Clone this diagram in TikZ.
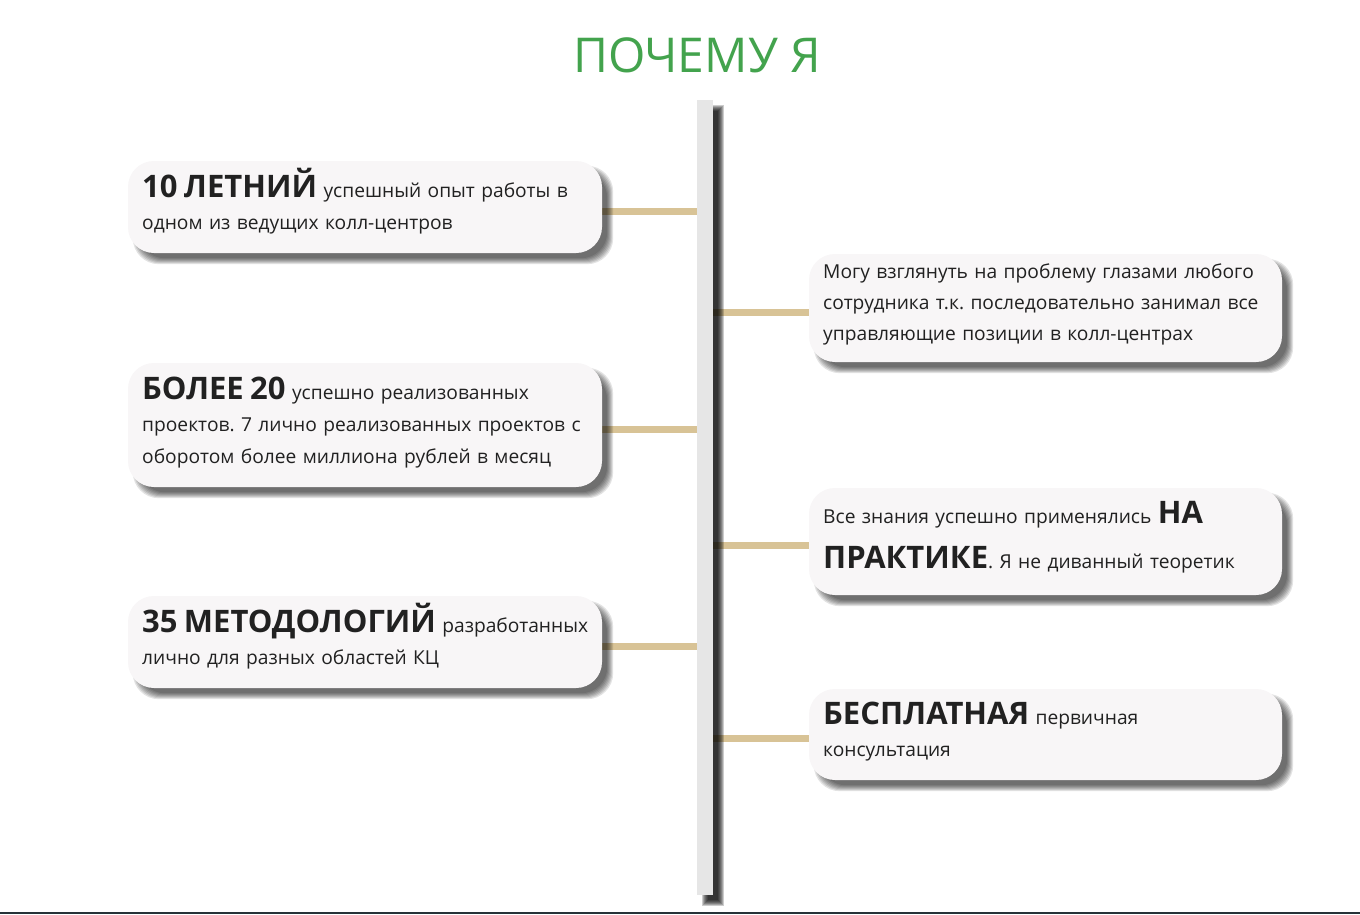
\documentclass[tikz,border=0pt]{standalone}
\usepackage{fontspec}
\setmainfont{Open Sans}
\usetikzlibrary{positioning,backgrounds}
\definecolor{titlegreen}{HTML}{43A34D}
\definecolor{cardfill}{HTML}{F8F6F7}
\definecolor{linktan}{HTML}{D8C396}
\definecolor{bargray}{HTML}{E6E6E6}
\definecolor{inkdark}{HTML}{212121}
\definecolor{edgeline}{HTML}{263238}
\newcommand{\bigword}[1]{{\fontsize{31}{32}\selectfont\bfseries #1}}
\frenchspacing

\tikzset{
  card/.style={rounded corners=26pt, fill=cardfill, minimum width=474pt, inner sep=0pt},
  cardtext/.style={anchor=base west, inner sep=0pt, text width=520pt, align=left,
    text=inkdark, font=\fontsize{19.2}{32}\selectfont},
  link/.style={linktan, line width=7pt},
}

\begin{document}
\begin{tikzpicture}[x=1pt, y=-1pt]
      \useasboundingbox (0,0) rectangle (1360,914);

      % Title
      \node[font=\fontsize{48}{56}\selectfont, text=titlegreen, anchor=base] (title)
        at (697,72) {ПОЧЕМУ Я};

      % Timeline bar
      \node[fill=bargray, minimum width=16pt, minimum height=795pt, inner sep=0pt]
        (bar) at (705,497.5) {};

      % Left cards
      \node[card, minimum height=92pt] (c1) at (365,207) {};
      \node[card, minimum height=124pt] (c2) at (365,425) {};
      \node[card, minimum height=92pt] (c3) at (365,642) {};

      % Right cards
      \node[card, minimum width=473pt, minimum height=108pt] (c4) at (1045.5,308) {};
      \node[card, minimum width=473pt, minimum height=107pt] (c5) at (1045.5,541.5) {};
      \node[card, minimum width=473pt, minimum height=91pt] (c6) at (1045.5,734.5) {};

      % Texts
      \node[cardtext] (t1) at (142,197)
        {\bigword{10 ЛЕТНИЙ} успешный опыт работы в\\
         одном из ведущих колл-центров};
      \node[cardtext] (t2) at (142,399)
        {\bigword{БОЛЕЕ 20} успешно реализованных\\
         проектов. 7 лично реализованных проектов с\\
         оборотом более миллиона рублей в месяц};
      \node[cardtext] (t3) at (142,632)
        {\bigword{35 МЕТОДОЛОГИЙ} разработанных\\
         лично для разных областей КЦ};
      \node[cardtext, font=\fontsize{19.2}{31}\selectfont] (t4) at (823,278)
        {Могу взглянуть на проблему глазами любого\\
         сотрудника т.к. последовательно занимал все\\
         управляющие позиции в колл-центрах};
      \node[cardtext] (t5) at (823,523)
        {Все знания успешно применялись \bigword{НА}\\[13pt]
         \bigword{ПРАКТИКЕ}. Я не диванный теоретик};
      \node[cardtext] (t6) at (823,724)
        {\bigword{БЕСПЛАТНАЯ} первичная\\
         консультация};

      % Connectors and shadows, behind everything
      \begin{scope}[on background layer]
        \fill[white] (0,0) rectangle (1360,914);
        \draw[link] ([yshift=-4pt]c1.east) -- ([yshift=-4pt]c1.east -| bar.west);
        \draw[link] ([yshift=-4pt]c2.east) -- ([yshift=-4pt]c2.east -| bar.west);
        \draw[link] ([yshift=-4pt]c3.east) -- ([yshift=-4pt]c3.east -| bar.west);
        \draw[link] ([yshift=-4pt]c4.west) -- ([yshift=-4pt]c4.west -| bar.east);
        \draw[link] ([yshift=-4pt]c5.west) -- ([yshift=-4pt]c5.west -| bar.east);
        \draw[link] ([yshift=-4pt]c6.west) -- ([yshift=-4pt]c6.west -| bar.east);
        % soft shadows
        \foreach \n in {c1,c2,c3,c4,c5,c6}
          \foreach \i in {0,...,6}
            \fill[black, opacity=0.11, rounded corners=26pt]
              ([shift={(5+\i,5+\i)}]\n.north west) rectangle ([shift={(11-\i,11-\i)}]\n.south east);
        \foreach \i in {0,...,6}
          \fill[black, opacity=0.2]
            ([shift={(5+\i,5+\i)}]bar.north west) rectangle ([shift={(11-\i,11-\i)}]bar.south east);
      \end{scope}

      % Bottom edge
      \draw[edgeline, line width=2pt] (0,912.5) -- (1360,912.5);
    \end{tikzpicture}
\end{document}
